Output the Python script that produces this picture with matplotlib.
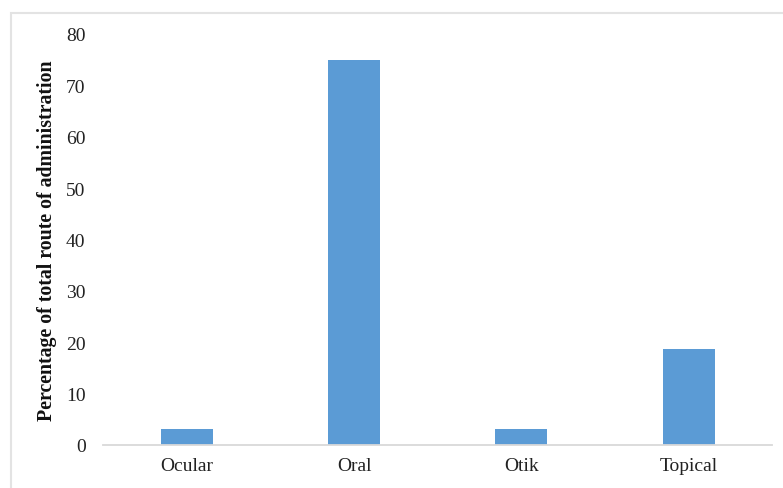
import matplotlib
matplotlib.use("Agg")
import matplotlib.pyplot as plt
from matplotlib.patches import Rectangle

# route of administration shares (%)
routes = ["Ocular", "Oral", "Otik", "Topical"]
percent = [3.125, 75.0, 3.125, 18.75]
yticks = [0, 10, 20, 30, 40, 50, 60, 70, 80]

plt.rcParams["font.family"] = ["Liberation Serif", "DejaVu Serif"]

fig = plt.figure(figsize=(7.83, 4.89), dpi=100)
ax = fig.add_axes([0.1315, 0.088, 0.855, 0.8405])

ax.bar(routes, percent, width=0.31, color="#5b9bd5")
ax.set_ylim(0, 80)
ax.set_xlim(-0.5, len(routes) - 0.5)
ax.set_yticks(yticks)

for s in ["top", "right", "left"]:
    ax.spines[s].set_visible(False)
ax.spines["bottom"].set_color("#d9d9d9")
ax.spines["bottom"].set_linewidth(1.3)
ax.tick_params(axis="both", length=0, labelsize=14, colors="#222222")
ax.tick_params(axis="y", pad=12.5)
ax.tick_params(axis="x", pad=9)

ax.set_ylabel("Percentage of total route of administration", fontsize=14.3,
              fontweight="bold", color="#111111")
ax.yaxis.set_label_coords(-0.068, 0.5)

# light frame around the chart area
fig.patches.append(Rectangle((11 / 783, -0.01), 1.0, 1 - 14 / 489 + 0.01,
                             transform=fig.transFigure, fill=False,
                             edgecolor="#e3e3e3", linewidth=1.5))

fig.savefig("out.png", dpi=100)
